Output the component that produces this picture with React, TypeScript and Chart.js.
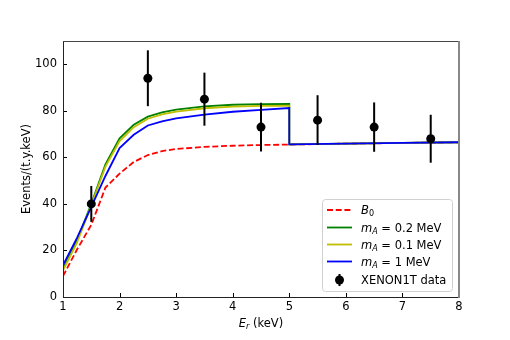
import React, { useEffect, useRef } from "react";
import { Chart, registerables } from "chart.js";

Chart.register(...registerables);

// ---- Data ----
const curveX = [1, 1.25, 1.5, 1.75, 2, 2.25, 2.5, 2.75, 3, 3.5, 4, 4.5, 5, 5, 6, 7, 8];
const b0Y = [9.0, 20.5, 31, 47, 53, 58, 61, 62.7, 63.6, 64.5, 65, 65.3, 65.5, 65.5, 65.9, 66.2, 66.5];
const mA02Y = [12.3, 24.5, 40, 57, 68.2, 74, 77.5, 79.3, 80.5, 81.9, 82.6, 82.9, 83.0, 65.6, 65.9, 66.2, 66.5];
const mA01Y = [11.5, 23.5, 39.5, 56, 67, 73, 76.6, 78.5, 79.7, 81.1, 81.8, 82.1, 82.2, 65.6, 65.9, 66.2, 66.5];
const mA1Y = [13.7, 25.5, 38.7, 52, 64, 69.7, 73.7, 75.5, 76.8, 78.4, 79.6, 80.4, 81.2, 65.6, 65.9, 66.2, 66.5];

const dataX = [1.5, 2.5, 3.5, 4.5, 5.5, 6.5, 7.5];
const dataY = [40, 94, 85, 73, 76, 73, 68];
const dataErr = [7.7, 12, 11.4, 10.5, 10.7, 10.6, 10.3];

const xTicks = [1, 2, 3, 4, 5, 6, 7, 8];
const yTicks = [0, 20, 40, 60, 80, 100];

const FONT = '"DejaVu Sans", sans-serif';
const FS = 11.5;

type Part = { t: string; it?: boolean; sub?: boolean };

function richWidth(ctx: CanvasRenderingContext2D, parts: Part[], size: number) {
  let w = 0;
  for (const p of parts) {
    const s = p.sub ? size * 0.7 : size;
    ctx.font = `${p.it ? "italic " : ""}${s}px ${FONT}`;
    w += ctx.measureText(p.t).width;
  }
  return w;
}

function drawRich(ctx: CanvasRenderingContext2D, parts: Part[], x: number, baseline: number, size: number) {
  let cx = x;
  ctx.textAlign = "left";
  ctx.textBaseline = "alphabetic";
  for (const p of parts) {
    const s = p.sub ? size * 0.7 : size;
    ctx.font = `${p.it ? "italic " : ""}${s}px ${FONT}`;
    ctx.fillText(p.t, cx, baseline + (p.sub ? size * 0.2 : 0));
    cx += ctx.measureText(p.t).width;
  }
}

const pts = (ys: number[]) => curveX.map((x, i) => ({ x, y: ys[i] }));

export default function App() {
  const ref = useRef<HTMLCanvasElement>(null);
  useEffect(() => {
    const canvas = ref.current!;
    const DATA_INDEX = 4;

    const errPlugin = {
      id: "errbars",
      beforeDatasetDraw(chart: any, args: any) {
        if (args.index !== DATA_INDEX) return;
        const ctx = chart.ctx;
        const xs = chart.scales.x, ys = chart.scales.y;
        ctx.save();
        ctx.strokeStyle = "#000";
        ctx.lineWidth = 2;
        dataX.forEach((x, i) => {
          const px = xs.getPixelForValue(x);
          ctx.beginPath();
          ctx.moveTo(px, ys.getPixelForValue(dataY[i] - dataErr[i]));
          ctx.lineTo(px, ys.getPixelForValue(dataY[i] + dataErr[i]));
          ctx.stroke();
        });
        ctx.restore();
      },
    };

    const decoPlugin = {
      id: "deco",
      afterDatasetsDraw(chart: any) {
        const ctx: CanvasRenderingContext2D = chart.ctx;
        const a = chart.chartArea;
        const xs = chart.scales.x, ys = chart.scales.y;
        ctx.save();
        // ticks inward
        ctx.strokeStyle = "#000";
        ctx.lineWidth = 1;
        xTicks.forEach((v) => {
          const px = Math.round(xs.getPixelForValue(v)) + 0.5;
          ctx.beginPath();
          ctx.moveTo(px, a.bottom);
          ctx.lineTo(px, a.bottom - 4);
          ctx.stroke();
        });
        yTicks.forEach((v) => {
          const py = Math.round(ys.getPixelForValue(v)) + 0.5;
          ctx.beginPath();
          ctx.moveTo(a.left, py);
          ctx.lineTo(a.left + 4, py);
          ctx.stroke();
        });
        // frame
        ctx.lineWidth = 1;
        ctx.strokeStyle = "#222";
        ctx.beginPath();
        ctx.moveTo(a.left + 0.5, a.top);
        ctx.lineTo(a.left + 0.5, a.bottom + 0.5);
        ctx.lineTo(a.right, a.bottom + 0.5);
        ctx.stroke();
        ctx.strokeStyle = "#444";
        ctx.beginPath();
        ctx.moveTo(a.left, a.top + 0.5);
        ctx.lineTo(a.right, a.top + 0.5);
        ctx.stroke();
        ctx.strokeStyle = "#888";
        ctx.lineWidth = 2;
        ctx.beginPath();
        ctx.moveTo(a.right, a.top);
        ctx.lineTo(a.right, a.bottom + 1);
        ctx.stroke();

        // axis titles
        ctx.fillStyle = "#000";
        const xl: Part[] = [{ t: "E", it: true }, { t: "r", it: true, sub: true }, { t: " (keV)" }];
        const wxl = richWidth(ctx, xl, FS);
        drawRich(ctx, xl, (a.left + a.right) / 2 - wxl / 2, 327, FS);

        ctx.save();
        ctx.translate(27, (a.top + a.bottom) / 2);
        ctx.rotate(-Math.PI / 2);
        ctx.font = `${FS}px ${FONT}`;
        ctx.textAlign = "center";
        ctx.textBaseline = "middle";
        ctx.fillText("Events/(t.y.keV)", 0, 0);
        ctx.restore();

        // legend
        const bx = 322.5, by = 199.5, bw = 130, bh = 92;
        ctx.beginPath();
        (ctx as any).roundRect(bx, by, bw, bh, 3);
        ctx.fillStyle = "rgba(255,255,255,0.8)";
        ctx.fill();
        ctx.strokeStyle = "#d0d0d0";
        ctx.lineWidth = 1;
        ctx.stroke();

        const rows = [210, 227.5, 244.5, 261.5, 280];
        const hx0 = 327, hx1 = 352, tx = 361;
        const lineEntries = [
          { color: "#ff0000", dash: [6, 2.7], parts: [{ t: "B", it: true }, { t: "0", sub: true }] as Part[] },
          { color: "#008000", dash: [], parts: [{ t: "m", it: true }, { t: "A", it: true, sub: true }, { t: " = 0.2 MeV" }] as Part[] },
          { color: "#bfbf00", dash: [], parts: [{ t: "m", it: true }, { t: "A", it: true, sub: true }, { t: " = 0.1 MeV" }] as Part[] },
          { color: "#0000ff", dash: [], parts: [{ t: "m", it: true }, { t: "A", it: true, sub: true }, { t: " = 1 MeV" }] as Part[] },
        ];
        lineEntries.forEach((e, i) => {
          const y = rows[i];
          ctx.strokeStyle = e.color;
          ctx.lineWidth = 1.8;
          ctx.setLineDash(e.dash);
          ctx.beginPath();
          ctx.moveTo(hx0, y);
          ctx.lineTo(hx1, y);
          ctx.stroke();
          ctx.setLineDash([]);
          ctx.fillStyle = "#000";
          drawRich(ctx, e.parts, tx, y + 4, FS);
        });
        const dy = rows[4];
        ctx.strokeStyle = "#000";
        ctx.lineWidth = 2;
        ctx.beginPath();
        ctx.moveTo((hx0 + hx1) / 2, dy - 6);
        ctx.lineTo((hx0 + hx1) / 2, dy + 6);
        ctx.stroke();
        ctx.fillStyle = "#000";
        ctx.beginPath();
        ctx.arc((hx0 + hx1) / 2, dy, 4.5, 0, Math.PI * 2);
        ctx.fill();
        ctx.font = `${FS}px ${FONT}`;
        ctx.textBaseline = "alphabetic";
        ctx.fillText("XENON1T data", tx, dy + 4);

        ctx.restore();
      },
    };

    const lw = 1.8;
    const chart = new Chart(canvas, {
      type: "scatter",
      data: {
        datasets: [
          { label: "B0", data: pts(b0Y), showLine: true, borderColor: "#ff0000", borderDash: [6, 2.7], borderWidth: lw, pointRadius: 0, order: 5 },
          { label: "mA=0.2", data: pts(mA02Y), showLine: true, borderColor: "#008000", borderWidth: lw, pointRadius: 0, order: 4 },
          { label: "mA=0.1", data: pts(mA01Y), showLine: true, borderColor: "#bfbf00", borderWidth: lw, pointRadius: 0, order: 3 },
          { label: "mA=1", data: pts(mA1Y), showLine: true, borderColor: "#0000ff", borderWidth: lw, pointRadius: 0, order: 2 },
          {
            label: "XENON1T data",
            data: dataX.map((x, i) => ({ x, y: dataY[i] })),
            showLine: false,
            pointRadius: 4.5,
            pointBackgroundColor: "#000",
            pointBorderColor: "#000",
            borderWidth: 0,
            order: 1,
          },
        ] as any,
      },
      options: {
        animation: false,
        responsive: false,
        devicePixelRatio: 1,
        layout: { padding: { left: 0, top: 41, right: 51, bottom: 0 } },
        plugins: { legend: { display: false }, tooltip: { enabled: false } },
        scales: {
          x: {
            type: "linear",
            min: 1,
            max: 8,
            grid: { display: false, drawTicks: false },
            border: { display: false },
            afterBuildTicks: (s: any) => { s.ticks = xTicks.map((v) => ({ value: v })); },
            afterFit: (s: any) => { s.height = 43; },
            ticks: { color: "#000", font: { family: FONT, size: FS }, padding: 3, maxRotation: 0 },
          },
          y: {
            type: "linear",
            min: 0,
            max: 110,
            grid: { display: false, drawTicks: false },
            border: { display: false },
            afterBuildTicks: (s: any) => { s.ticks = yTicks.map((v) => ({ value: v })); },
            afterFit: (s: any) => { s.width = 63; },
            ticks: { color: "#000", font: { family: FONT, size: FS }, padding: 6 },
          },
        },
      } as any,
      plugins: [errPlugin, decoPlugin],
    });
    return () => chart.destroy();
  }, []);

  return (
    <div style={{ position: "fixed", left: 0, top: 0, width: 510, height: 340, background: "#fff" }}>
      <canvas ref={ref} width={510} height={340} style={{ display: "block", width: 510, height: 340 }} />
    </div>
  );
}
